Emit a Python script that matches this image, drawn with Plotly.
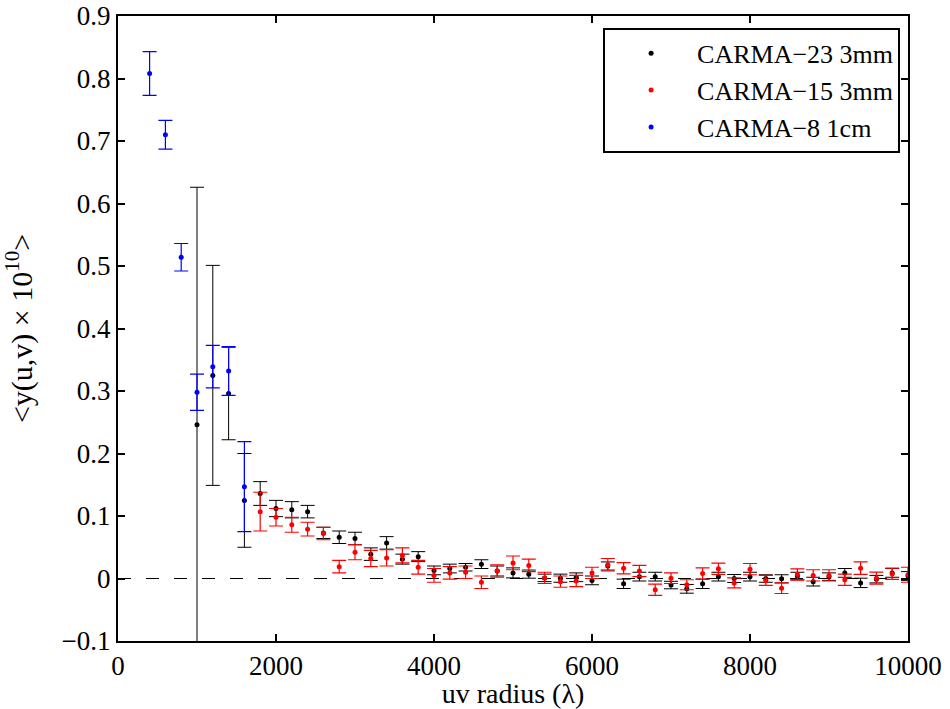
import plotly.graph_objects as go

# ---------------- data ----------------
x_black = list(range(1000, 10001, 200))
y_black = [0.246, 0.325, 0.296, 0.125, 0.136, 0.112, 0.110, 0.107, 0.073, 0.066,
           0.064, 0.039, 0.057, 0.031, 0.035, 0.013, 0.016, 0.018, 0.023, 0.012,
           0.009, 0.007, 0.001, 0.0005, 0.002, -0.003, 0.020, -0.0085, 0.003, 0.003,
           -0.0105, -0.0165, -0.0085, 0.003, 0.0, 0.003, 0.0, -0.0005, 0.004, -0.005,
           0.003, 0.009, -0.007, -0.001, 0.009, 0.004]
e_black = [0.38, 0.176, 0.074, 0.075, 0.019, 0.013, 0.013, 0.010, 0.009, 0.010,
           0.010, 0.010, 0.010, 0.008, 0.008, 0.007, 0.007, 0.006, 0.007, 0.008,
           0.008, 0.0065, 0.006, 0.0065, 0.007, 0.007, 0.0065, 0.0075, 0.007, 0.007,
           0.006, 0.007, 0.0075, 0.007, 0.0064, 0.007, 0.006, 0.0065, 0.006, 0.007,
           0.006, 0.007, 0.0075, 0.006, 0.007, 0.007]

x_red = list(range(1800, 10001, 200))
y_red = [0.107, 0.098, 0.086, 0.079, 0.072, 0.019, 0.042, 0.032, 0.033, 0.037,
         0.018, 0.005, 0.009, 0.010, -0.006, 0.012, 0.025, 0.021, 0.001, -0.005,
         -0.004, 0.009, 0.022, 0.0165, 0.012, -0.018, 0.0005, -0.010, 0.008, 0.0155,
         -0.007, 0.015, -0.003, -0.0155, 0.0064, 0.005, 0.005, -0.002, 0.0165, 0.0005,
         0.0075, 0.006]
e_red = [0.031, 0.014, 0.012, 0.011, 0.010, 0.010, 0.012, 0.013, 0.013, 0.012,
         0.011, 0.011, 0.010, 0.010, 0.010, 0.010, 0.011, 0.010, 0.009, 0.009,
         0.009, 0.009, 0.010, 0.009, 0.009, 0.009, 0.0085, 0.008, 0.009, 0.009,
         0.008, 0.009, 0.008, 0.0085, 0.009, 0.009, 0.009, 0.009, 0.010, 0.0096,
         0.009, 0.012]

x_blue = [400, 600, 800, 1000, 1200, 1400, 1600]
y_blue = [0.808, 0.710, 0.514, 0.298, 0.339, 0.332, 0.147]
e_blue = [0.035, 0.023, 0.022, 0.029, 0.034, 0.039, 0.072]

series_names = ["CARMA\u221223 3mm", "CARMA\u221215 3mm", "CARMA\u22128 1cm"]
x_ticks = [0, 2000, 4000, 6000, 8000, 10000]
y_ticks = [-0.1, 0, 0.1, 0.2, 0.3, 0.4, 0.5, 0.6, 0.7, 0.8, 0.9]

FONT = "'Times New Roman', Times, 'Liberation Serif', serif"

fig = go.Figure()
for xs, ys, es, name, col, th in [
    (x_black, y_black, e_black, series_names[0], "#000000", 1.0),
    (x_red, y_red, e_red, series_names[1], "#ff0000", 1.2),
    (x_blue, y_blue, e_blue, series_names[2], "#0000ff", 1.2),
]:
    fig.add_trace(go.Scatter(
        x=xs, y=ys, mode="markers", name=name,
        marker=dict(color=col, size=5),
        error_y=dict(type="data", array=es, visible=True, color=col,
                     thickness=th, width=7),
    ))

# zero reference line
fig.add_shape(type="line", xref="paper", x0=0, x1=1, yref="y", y0=0, y1=0,
              line=dict(color="black", width=1, dash="13px,15px"), layer="below")

axis_common = dict(
    showline=True, linecolor="black", linewidth=2, mirror="ticks",
    ticks="inside", ticklen=7, tickwidth=2, tickcolor="black",
    showgrid=False, zeroline=False, ticklabeloverflow="allow",
    tickfont=dict(family=FONT, size=27, color="black"),
)

fig.update_xaxes(range=[0, 10000], tickvals=x_ticks,
                 ticktext=[str(v) for v in x_ticks],
                 title=dict(text="uv radius (\u03bb)", font=dict(family=FONT, size=28, color="black"),
                            standoff=0),
                 **axis_common)
fig.update_yaxes(range=[-0.1, 0.9], tickvals=y_ticks,
                 ticktext=[("\u2212" + f"{abs(v):g}") if v < 0 else f"{v:g}" for v in y_ticks],
                 title=dict(text="&lt;y(u,v) \u00d7 10<sup>10</sup>&gt;",
                            font=dict(family=FONT, size=30, color="black"), standoff=21),
                 **axis_common)

fig.update_layout(
    width=950, height=709,
    margin=dict(l=118, r=42, t=16, b=68, autoexpand=False),
    plot_bgcolor="white", paper_bgcolor="white",
    font=dict(family=FONT, color="black"),
    legend=dict(
        x=0.99, y=0.981, xanchor="right", yanchor="top",
        bgcolor="white", bordercolor="black", borderwidth=2,
        font=dict(family=FONT, size=26, color="black"),
        itemwidth=82, tracegroupgap=0,
    ),
)

fig.write_html("out.html", config={"displayModeBar": False},
               post_script="document.body.style.margin='0px';document.body.style.overflow='hidden';")
